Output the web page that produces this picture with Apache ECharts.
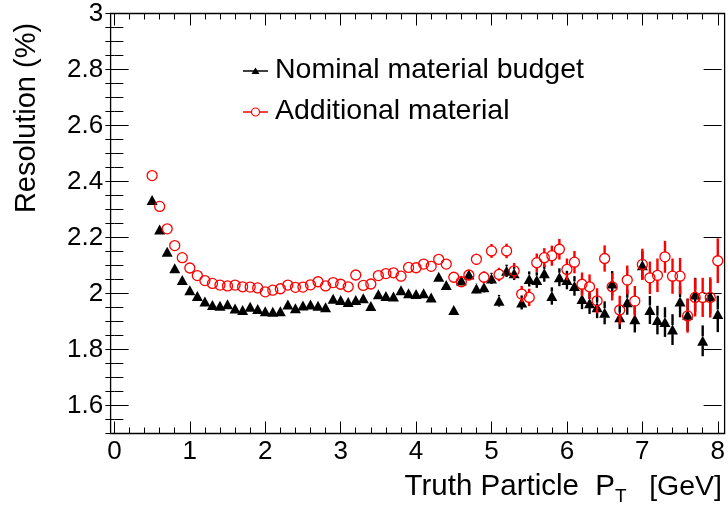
<!DOCTYPE html>
<html><head><meta charset="utf-8">
<script src="https://cdn.jsdelivr.net/npm/echarts@6/dist/echarts.min.js"></script>
<style>html,body{margin:0;padding:0;background:#fff}#c{width:728px;height:509px}</style>
</head><body><div id="c"></div>
<script>
// ---------- data ----------
const ptValues = [0.5,0.6,0.7,0.8,0.9,1.0,1.1,1.2,1.3,1.4,1.5,1.6,1.7,1.8,1.9,2.0,2.1,2.2,2.3,2.4,2.5,2.6,2.7,2.8,2.9,3.0,3.1,3.2,3.3,3.4,3.5,3.6,3.7,3.8,3.9,4.0,4.1,4.2,4.3,4.4,4.5,4.6,4.7,4.8,4.9,5.0,5.1,5.2,5.3,5.4,5.5,5.6,5.7,5.8,5.9,6.0,6.1,6.2,6.3,6.4,6.5,6.6,6.7,6.8,6.9,7.0,7.1,7.2,7.3,7.4,7.5,7.6,7.7,7.8,7.9,8.0];
const nominal = [2.334,2.229,2.149,2.090,2.048,2.012,1.991,1.971,1.959,1.956,1.962,1.946,1.941,1.953,1.945,1.937,1.935,1.937,1.961,1.947,1.957,1.961,1.956,1.951,1.981,1.977,1.970,1.977,1.983,1.955,1.997,1.991,1.989,2.012,2.001,1.998,2.001,1.986,2.060,2.030,1.941,2.046,2.068,2.018,2.022,2.054,1.974,2.081,2.072,1.968,2.052,2.048,2.072,1.991,2.058,2.048,2.027,1.980,1.965,1.951,1.931,2.036,1.915,1.969,1.908,2.101,1.941,1.905,1.898,1.871,1.971,1.924,1.996,1.831,1.990,1.927];
const nominalErr = [0.003,0.003,0.003,0.003,0.003,0.003,0.003,0.003,0.003,0.003,0.003,0.003,0.003,0.003,0.003,0.004,0.004,0.004,0.004,0.004,0.004,0.004,0.004,0.004,0.005,0.005,0.005,0.006,0.006,0.006,0.006,0.007,0.007,0.007,0.008,0.008,0.009,0.010,0.011,0.012,0.013,0.014,0.016,0.017,0.018,0.020,0.021,0.022,0.024,0.025,0.027,0.028,0.030,0.031,0.032,0.033,0.035,0.036,0.038,0.039,0.041,0.044,0.042,0.045,0.047,0.050,0.050,0.051,0.053,0.055,0.056,0.058,0.060,0.055,0.062,0.065];
const additional = [2.421,2.311,2.231,2.171,2.128,2.091,2.064,2.046,2.036,2.030,2.027,2.030,2.024,2.023,2.020,2.006,2.012,2.017,2.030,2.022,2.023,2.031,2.042,2.027,2.039,2.033,2.024,2.066,2.029,2.034,2.064,2.071,2.074,2.062,2.093,2.092,2.105,2.097,2.122,2.105,2.058,2.042,2.066,2.122,2.058,2.152,2.068,2.152,2.081,1.998,1.986,2.110,2.128,2.135,2.158,2.086,2.112,2.033,2.024,1.974,2.125,2.024,1.941,2.048,1.973,2.104,2.056,2.065,2.131,2.062,2.062,1.920,1.986,1.986,1.986,2.117];
const additionalErr = [0.003,0.003,0.003,0.003,0.003,0.003,0.003,0.003,0.003,0.003,0.004,0.004,0.004,0.004,0.004,0.004,0.004,0.005,0.005,0.005,0.005,0.005,0.005,0.006,0.006,0.006,0.006,0.007,0.007,0.007,0.008,0.008,0.008,0.009,0.010,0.010,0.011,0.012,0.013,0.014,0.015,0.017,0.018,0.020,0.021,0.025,0.024,0.026,0.028,0.029,0.031,0.033,0.034,0.036,0.037,0.039,0.040,0.042,0.044,0.045,0.047,0.049,0.051,0.052,0.054,0.056,0.058,0.060,0.057,0.063,0.065,0.060,0.068,0.070,0.072,0.080];
const yMajorTicks = [1.6,1.8,2.0,2.2,2.4,2.6,2.8,3.0];
const seriesNames = ['Nominal material budget','Additional material'];
const xTitle = ['Truth Particle  P','T','[GeV]'];
const yTitle = 'Resolution (%)';

// ---------- layout ----------
const FONT = 'Liberation Sans, Arial, Helvetica, sans-serif';
const FRAME = {l:110.6, t:13.5, r:724.6, b:433.5};
const GRID = {left:114.4, right:728-720.7, top:13.5, bottom:509-433.5};

const chart = echarts.init(document.getElementById('c'), null, {renderer:'canvas'});

function errSeries(vals, errs, color, z) {
  return {
    type:'custom', silent:true, z:z, clip:false,
    data: ptValues.map((x,i)=>[x, vals[i], errs[i]]),
    encode:{x:0,y:1},
    renderItem:(params, api)=>{
      const x=api.value(0), y=api.value(1), e=api.value(2);
      const c=api.coord([x,y]), top=api.coord([x,y+e]), bot=api.coord([x,y-e]);
      const gap=4.5, ch=[];
      const st={stroke:color, lineWidth:2.4};
      if (c[1]-top[1] > gap) ch.push({type:'line', shape:{x1:c[0],y1:top[1],x2:c[0],y2:c[1]-gap}, style:st});
      if (bot[1]-c[1] > gap) ch.push({type:'line', shape:{x1:c[0],y1:c[1]+gap,x2:c[0],y2:bot[1]}, style:st});
      return {type:'group', children:ch};
    }
  };
}

const option = {
  animation:false,
  backgroundColor:'#fff',
  grid:{left:GRID.left, right:GRID.right, top:GRID.top, bottom:GRID.bottom, containLabel:false},
  xAxis:[
    {type:'value', position:'bottom', min:0, max:8, interval:1,
     axisLine:{show:false}, splitLine:{show:false},
     axisTick:{inside:true, length:12, lineStyle:{color:'#000', width:1}},
     minorTick:{show:true, splitNumber:5, length:6, lineStyle:{color:'#000', width:1}},
     axisLabel:{color:'#000', fontSize:26, fontFamily:FONT, margin:5}},
    {type:'value', position:'top', min:0, max:8, interval:1,
     axisLine:{show:false}, splitLine:{show:false},
     axisTick:{inside:true, length:12, lineStyle:{color:'#000', width:1}},
     minorTick:{show:true, splitNumber:5, length:6, lineStyle:{color:'#000', width:1}},
     axisLabel:{show:false}}
  ],
  yAxis:[
    {type:'value', position:'left', offset:GRID.left-FRAME.l, min:1.5, max:3, interval:0.05,
     axisLine:{show:false}, splitLine:{show:false},
     axisTick:{inside:true, length:9, lineStyle:{color:'#000', width:1}},
     axisLabel:{color:'#000', fontSize:26, fontFamily:FONT, margin:7.5,
       formatter:(v)=>{const k=Math.round(v*20); if(k%4!==0) return ''; return String(+(k/20).toFixed(2));}}},
    {type:'value', position:'right', offset:FRAME.r-(728-GRID.right), min:1.5, max:3, interval:0.05,
     axisLine:{show:false}, splitLine:{show:false},
     axisTick:{inside:true, length:9, lineStyle:{color:'#000', width:1}},
     axisLabel:{show:false}}
  ],
  series:[
    {type:'custom', silent:true, z:1, clip:false,
     data: yMajorTicks.map(v=>[0,v]), encode:{x:0,y:1},
     renderItem:(params, api)=>{
       const p=api.coord([0, api.value(1)]);
       const cs=params.coordSys;
       const L=cs.x-(GRID.left-FRAME.l), R=cs.x+cs.width+(FRAME.r-(728-GRID.right));
       const st={stroke:'#000', lineWidth:1};
       return {type:'group', children:[
         {type:'line', shape:{x1:L,y1:p[1],x2:L+18,y2:p[1]}, style:st},
         {type:'line', shape:{x1:R-18,y1:p[1],x2:R,y2:p[1]}, style:st}
       ]};
     }},
    errSeries(nominal, nominalErr, '#000', 2),
    {type:'scatter', name:seriesNames[0], z:3, symbol:'triangle', symbolSize:[11,10],
     data: ptValues.map((x,i)=>[x, nominal[i]]),
     itemStyle:{color:'#000', opacity:1}},
    errSeries(additional, additionalErr, '#ff0000', 4),
    {type:'scatter', name:seriesNames[1], z:5, symbol:'circle', symbolSize:10,
     data: ptValues.map((x,i)=>[x, additional[i]]),
     itemStyle:{color:'rgba(0,0,0,0)', borderColor:'#ff0000', borderWidth:1.3, opacity:1}}
  ],
  graphic:[
    {type:'rect', z:100, silent:true, shape:{x:FRAME.l, y:FRAME.t, width:FRAME.r-FRAME.l, height:FRAME.b-FRAME.t},
     style:{fill:'none', stroke:'#000', lineWidth:1.3}},
    {type:'text', x:27, y:118, rotation:Math.PI/2, silent:true,
     style:{text:yTitle, font:'29px '+FONT, fill:'#000', align:'center', verticalAlign:'middle'}},
    {type:'text', x:615, y:487, silent:true,
     style:{text:xTitle[0], font:'29.5px '+FONT, fill:'#000', align:'right', verticalAlign:'middle'}},
    {type:'text', x:615, y:497, silent:true,
     style:{text:xTitle[1], font:'19px '+FONT, fill:'#000', align:'left', verticalAlign:'middle'}},
    {type:'text', x:722, y:487, silent:true,
     style:{text:xTitle[2], font:'28.5px '+FONT, fill:'#000', align:'right', verticalAlign:'middle'}},
    // legend
    {type:'line', silent:true, shape:{x1:243, y1:71, x2:268, y2:71}, style:{stroke:'#000', lineWidth:1.5}},
    {type:'polygon', silent:true, shape:{points:[[255.5,67.5],[259.5,74],[251.5,74]]}, style:{fill:'#000'}},
    {type:'text', x:275, y:70, silent:true,
     style:{text:seriesNames[0], font:'28.5px '+FONT, fill:'#000', align:'left', verticalAlign:'middle'}},
    {type:'line', silent:true, shape:{x1:243, y1:112, x2:251.5, y2:112}, style:{stroke:'#ff0000', lineWidth:1.5}},
    {type:'line', silent:true, shape:{x1:259.5, y1:112, x2:268, y2:112}, style:{stroke:'#ff0000', lineWidth:1.5}},
    {type:'circle', silent:true, shape:{cx:255.5, cy:112, r:4}, style:{fill:'none', stroke:'#ff0000', lineWidth:1.2}},
    {type:'text', x:275, y:111.5, silent:true,
     style:{text:seriesNames[1], font:'28.5px '+FONT, fill:'#000', align:'left', verticalAlign:'middle'}}
  ]
};
chart.setOption(option);
</script>
</body></html>
